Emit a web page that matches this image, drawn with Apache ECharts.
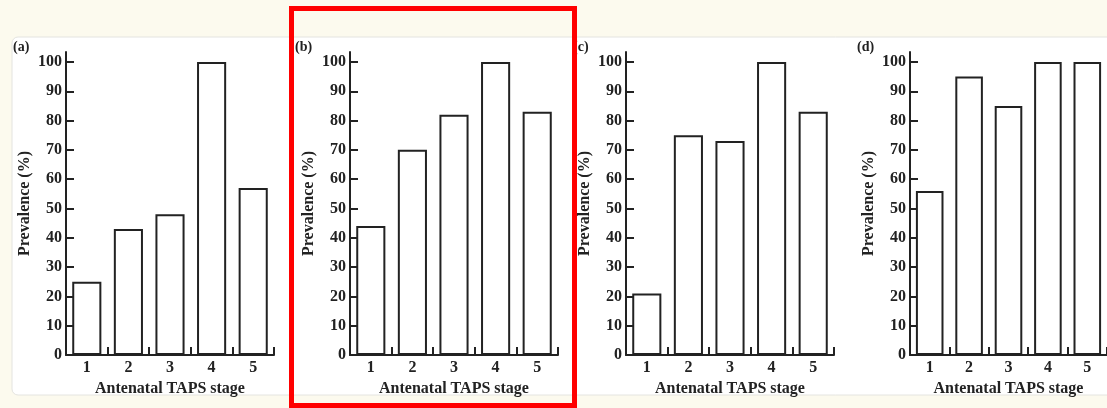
<!DOCTYPE html>
<html>
<head>
<meta charset="utf-8">
<script src="https://cdn.jsdelivr.net/npm/echarts@6/dist/echarts.min.js"></script>
<style>
html,body{margin:0;padding:0;background:#fcfaee;}
#c{width:1107px;height:408px;}
</style>
</head>
<body>
<div id="c"></div>
<script>
var categories = ['1', '2', '3', '4', '5'];
var panelA = [25, 43, 48, 100, 57];
var panelB = [44, 70, 82, 100, 83];
var panelC = [21, 75, 73, 100, 83];
var panelD = [56, 95, 85, 100, 100];
var yTicks = [0, 10, 20, 30, 40, 50, 60, 70, 80, 90, 100];
var panelLabels = ['(a)', '(b)', '(c)', '(d)'];
var yName = 'Prevalence (%)';
var xName = 'Antenatal TAPS stage';

var series = [panelA, panelB, panelC, panelD];
var lefts = [66, 350, 626, 910];
var labelX = [13, 295, 573, 857];
var ink = '#222';
var font = 'Liberation Serif';

var grids = [], xAxes = [], yAxes = [], ser = [], graphics = [];
graphics.push({type:'rect', z:-10, shape:{x:12, y:37, width:1120, height:358, r:6},
  style:{fill:'#ffffff', stroke:'#e4e4e0', lineWidth:1}});
for (var i = 0; i < 4; i++) {
  grids.push({left: lefts[i], top: 52, width: 208, height: 303});
  xAxes.push({
    type: 'category', gridIndex: i, data: categories, boundaryGap: true,
    name: xName, nameLocation: 'middle', nameGap: 25,
    nameTextStyle: {fontFamily: font, fontWeight: 'bold', fontSize: 16, color: ink},
    axisLine: {show: true, lineStyle: {color: ink, width: 2}},
    axisTick: {show: true, inside: true, length: 8, interval: 0, alignWithLabel: false, lineStyle: {color: ink, width: 2}},
    axisLabel: {fontFamily: font, fontWeight: 'bold', fontSize: 16, color: ink, margin: 5, interval: 0},
    splitLine: {show: false}
  });
  yAxes.push({
    type: 'value', gridIndex: i, min: 0, max: 103.4,
    name: yName, nameLocation: 'middle', nameGap: 33,
    nameTextStyle: {fontFamily: font, fontWeight: 'bold', fontSize: 16, color: ink},
    axisLine: {show: true, lineStyle: {color: ink, width: 2}},
    axisTick: {show: true, inside: true, length: 8, customValues: yTicks, lineStyle: {color: ink, width: 2}},
    axisLabel: {fontFamily: font, fontWeight: 'bold', fontSize: 16, color: ink, margin: 4, customValues: yTicks},
    splitLine: {show: false}
  });
  ser.push({
    type: 'bar', xAxisIndex: i, yAxisIndex: i, data: series[i], barWidth: '70%',
    itemStyle: {color: '#ffffff', borderColor: ink, borderWidth: 2},
    silent: true
  });
  graphics.push({type:'text', left: labelX[i], top: 40, z: 50,
    style:{text: panelLabels[i], font: 'bold 14px "Liberation Serif"', fill: ink}});
}
graphics.push({type:'rect', z:100, shape:{x:291.5, y:8.5, width:283, height:397},
  style:{fill:'none', stroke:'#ff0000', lineWidth:5}});

var chart = echarts.init(document.getElementById('c'), null, {renderer: 'canvas'});
chart.setOption({
  backgroundColor: '#fcfaee',
  animation: false,
  grid: grids, xAxis: xAxes, yAxis: yAxes, series: ser,
  graphic: graphics
});
</script>
</body>
</html>
